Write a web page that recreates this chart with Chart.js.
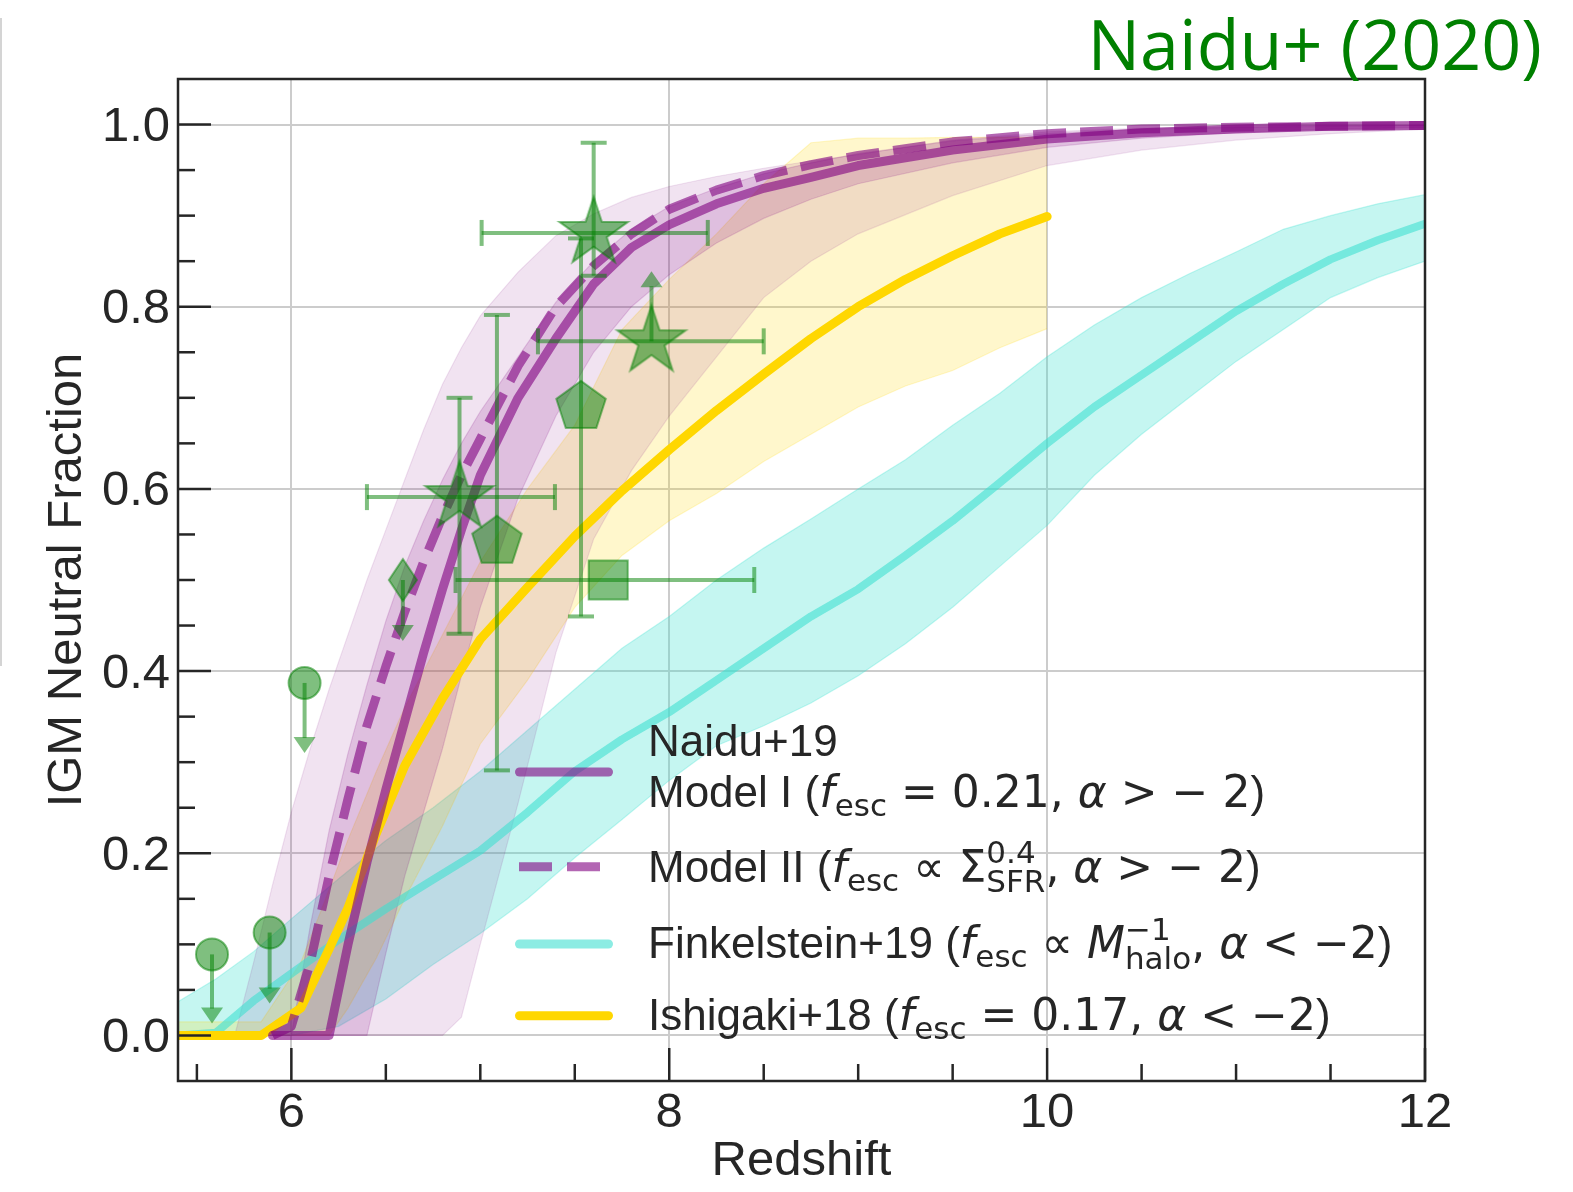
<!DOCTYPE html>
<html>
<head>
<meta charset="utf-8">
<script src="https://cdn.jsdelivr.net/npm/chart.js@4.4.1/dist/chart.umd.min.js"></script>
<style>
  html, body { margin: 0; padding: 0; background: #fff; }
  #wrap { position: relative; width: 1573px; height: 1192px; }
</style>
</head>
<body>
<div id="wrap"><canvas id="chart"></canvas></div>
<script>
// Naidu+19 models (purple): redshift grid, lines and bands
const purpleZ  = [5.7, 5.8, 5.9, 6.0, 6.1, 6.2, 6.3, 6.4, 6.5, 6.6, 6.7, 6.8, 6.9, 7.0, 7.2, 7.4, 7.6, 7.8, 8.0, 8.25, 8.5, 8.75, 9.0, 9.5, 10.0, 10.5, 11.0, 11.5, 12.0];
const modelI   = [null, null, 0, 0, 0, 0, 0.10, 0.19, 0.27, 0.345, 0.42, 0.49, 0.555, 0.615, 0.70, 0.765, 0.825, 0.865, 0.89, 0.913, 0.93, 0.942, 0.955, 0.972, 0.984, 0.991, 0.995, 0.998, 0.999];
const modelII  = [null, null, 0, 0.01, 0.08, 0.175, 0.26, 0.34, 0.405, 0.465, 0.52, 0.57, 0.615, 0.655, 0.735, 0.80, 0.845, 0.88, 0.907, 0.928, 0.944, 0.956, 0.966, 0.981, 0.99, 0.995, 0.997, 0.998, 0.999];
const modelIHi = [0, 0, 0, 0, 0.12, 0.225, 0.31, 0.385, 0.455, 0.515, 0.565, 0.61, 0.65, 0.685, 0.745, 0.805, 0.85, 0.885, 0.91, 0.93, 0.946, 0.958, 0.968, 0.982, 0.99, 0.995, 0.997, 0.998, 0.999];
const modelILo = [0, 0, 0, 0, 0, 0, 0, 0, 0.09, 0.175, 0.245, 0.315, 0.395, 0.47, 0.59, 0.68, 0.75, 0.80, 0.835, 0.87, 0.897, 0.918, 0.935, 0.958, 0.975, 0.985, 0.991, 0.995, 0.997];
const modelIIHi = [0, 0.08, 0.165, 0.245, 0.315, 0.38, 0.44, 0.50, 0.555, 0.61, 0.665, 0.715, 0.755, 0.79, 0.838, 0.878, 0.902, 0.92, 0.932, 0.943, 0.952, 0.96, 0.967, 0.983, 0.992, 0.996, 0.998, 0.999, 0.999];
const modelIILo = [0, 0, 0, 0, 0, 0, 0, 0, 0, 0, 0, 0, 0.02, 0.10, 0.255, 0.42, 0.545, 0.62, 0.68, 0.745, 0.81, 0.85, 0.88, 0.922, 0.955, 0.972, 0.983, 0.99, 0.995];

// Ishigaki+18 (gold)
const yellowZ   = [5.4, 5.6, 5.84, 6.05, 6.2, 6.3, 6.45, 6.6, 6.8, 7.0, 7.25, 7.5, 7.75, 8.0, 8.25, 8.5, 8.75, 9.0, 9.25, 9.5, 9.75, 10.0];
const yellowMid = [0, 0, 0, 0.03, 0.095, 0.14, 0.222, 0.296, 0.37, 0.435, 0.492, 0.548, 0.598, 0.643, 0.686, 0.726, 0.765, 0.80, 0.83, 0.856, 0.88, 0.899];
const yellowHi  = [0.015, 0.015, 0.015, 0.08, 0.16, 0.215, 0.29, 0.36, 0.44, 0.52, 0.60, 0.67, 0.775, 0.83, 0.88, 0.935, 0.98, 0.985, 0.985, 0.986, 0.986, 0.986];
const yellowLo  = [0, 0, 0, 0, 0, 0.03, 0.085, 0.15, 0.23, 0.32, 0.39, 0.47, 0.527, 0.565, 0.595, 0.63, 0.66, 0.69, 0.713, 0.73, 0.755, 0.776];

// Finkelstein+19 (turquoise)
const cyanZ   = [5.4, 5.6, 5.8, 6.0, 6.25, 6.5, 6.75, 7.0, 7.25, 7.5, 7.75, 8.0, 8.25, 8.5, 8.75, 9.0, 9.25, 9.5, 9.75, 10.0, 10.25, 10.5, 10.75, 11.0, 11.25, 11.5, 11.75, 12.0];
const cyanMid = [0, 0.003, 0.038, 0.068, 0.105, 0.139, 0.171, 0.203, 0.245, 0.29, 0.325, 0.355, 0.39, 0.425, 0.46, 0.49, 0.527, 0.565, 0.607, 0.65, 0.69, 0.725, 0.76, 0.795, 0.825, 0.852, 0.873, 0.891];
const cyanHi  = [0.037, 0.062, 0.092, 0.128, 0.172, 0.214, 0.25, 0.29, 0.335, 0.38, 0.425, 0.46, 0.50, 0.535, 0.567, 0.60, 0.632, 0.67, 0.705, 0.745, 0.78, 0.81, 0.836, 0.86, 0.885, 0.90, 0.913, 0.923];
const cyanLo  = [0, 0, 0, 0, 0.01, 0.04, 0.078, 0.112, 0.15, 0.195, 0.237, 0.28, 0.318, 0.34, 0.365, 0.395, 0.43, 0.47, 0.515, 0.56, 0.615, 0.66, 0.70, 0.74, 0.775, 0.81, 0.832, 0.85];

// Observational constraints (green)
const circZ = [5.58, 5.885, 6.07];       // upper limits
const circXHI = [0.089, 0.113, 0.387];
const circLimTo = [0.013, 0.035, 0.31];
const diamZ = [6.59];                    // upper limit
const diamXHI = [0.50];
const diamLimTo = [0.433];
const starZ = [6.89, 7.60, 7.906];
const starXHI = [0.591, 0.881, 0.762];
const starZLo = [6.40, 7.007, 7.305];
const starZHi = [7.395, 8.204, 8.50];
const starXLo = [0.441, 0.834, null];
const starXUp = [0.70, 0.98, null];
const starLimTo = [null, null, 0.839];    // lower limit
const pentZ = [7.088, 7.533];
const pentXHI = [0.542, 0.69];
const pentXLo = [0.291, 0.46];
const pentXUp = [0.791, 0.875];
const sqZ = [7.677];
const sqXHI = [0.50];
const sqZLo = [6.869];
const sqZHi = [8.45];

// Axes
const xTicks = [6, 8, 10, 12];
const xMinorTicks = [5.5, 6.5, 7, 7.5, 8.5, 9, 9.5, 10.5, 11, 11.5];
const yTicks = [0, 0.2, 0.4, 0.6, 0.8, 1.0];
const yMinorTicks = [0.05, 0.1, 0.15, 0.25, 0.3, 0.35, 0.45, 0.5, 0.55, 0.65, 0.7, 0.75, 0.85, 0.9, 0.95];

const PURPLE = 'rgba(128,0,128,0.6)';
const GOLD = '#FFD700';
const TURQ = 'rgba(64,224,208,0.6)';
const GREEN = 'rgba(0,128,0,0.5)';
const INK = '#262626';

const xy = (zs, vs) => zs.map((z, i) => ({x: z, y: vs[i]}));

function markerCanvas(pts, w, h) {
  const c = document.createElement('canvas');
  c.width = Math.ceil(w + 6); c.height = Math.ceil(h + 6);
  const g = c.getContext('2d');
  g.translate(c.width / 2, c.height / 2);
  g.beginPath();
  pts.forEach(([px, py], i) => i ? g.lineTo(px, py) : g.moveTo(px, py));
  g.closePath();
  g.fillStyle = GREEN; g.fill();
  g.strokeStyle = GREEN; g.lineWidth = 2; g.lineJoin = 'miter'; g.stroke();
  return c;
}
function polyPts(n, R, r) {
  const pts = [];
  const k = r ? 2 * n : n;
  for (let i = 0; i < k; i++) {
    const a = -Math.PI / 2 + i * 2 * Math.PI / k;
    const rad = (r && i % 2) ? r : R;
    pts.push([rad * Math.cos(a), rad * Math.sin(a)]);
  }
  return pts;
}
const starImg = markerCanvas(polyPts(5, 36, 36 * 0.382), 72, 72);
const pentImg = markerCanvas(polyPts(5, 26), 52, 52);
const diamImg = markerCanvas([[0, -21], [14, 0], [0, 21], [-14, 0]], 28, 42);

function band(zs, vs, color, fill, order) {
  return { data: xy(zs, vs), borderColor: color, backgroundColor: color, borderWidth: 1.2,
           pointRadius: 0, fill: fill, tension: 0, order: order };
}
function curve(zs, vs, color, width, order, dash) {
  return { data: xy(zs, vs), borderColor: color, borderWidth: width, pointRadius: 0, fill: false,
           tension: 0, order: order, borderDash: dash || [], borderCapStyle: dash ? 'butt' : 'round',
           borderJoinStyle: 'round' };
}
function markers(zs, vs, style, radius, order) {
  return { data: xy(zs, vs), showLine: false, pointStyle: style, pointRadius: radius,
           pointBackgroundColor: GREEN, pointBorderColor: GREEN, pointBorderWidth: 2, order: order };
}

const datasets = [
  markers(starZ, starXHI, starImg, 20, 0),
  markers(pentZ, pentXHI, pentImg, 20, 1),
  markers(sqZ, sqXHI, 'rect', 27.6, 2),
  markers(diamZ, diamXHI, diamImg, 20, 3),
  markers(circZ, circXHI, 'circle', 16, 4),
  curve(purpleZ, modelII, PURPLE, 9, 10, [33, 14]),
  curve(purpleZ, modelI, PURPLE, 9, 11),
  curve(yellowZ, yellowMid, GOLD, 9, 12),
  curve(cyanZ, cyanMid, TURQ, 8, 13),
  band(purpleZ, modelIHi, 'rgba(128,0,128,0.16)', '+1', 14),
  band(purpleZ, modelILo, 'rgba(128,0,128,0.16)', false, 15),
  band(purpleZ, modelIIHi, 'rgba(128,0,128,0.11)', '+1', 16),
  band(purpleZ, modelIILo, 'rgba(128,0,128,0.11)', false, 17),
  band(yellowZ, yellowHi, 'rgba(255,215,0,0.2)', '+1', 18),
  band(yellowZ, yellowLo, 'rgba(255,215,0,0.2)', false, 19),
  band(cyanZ, cyanHi, 'rgba(64,224,208,0.3)', '+1', 20),
  band(cyanZ, cyanLo, 'rgba(64,224,208,0.3)', false, 21)
];

// error bars and limit arrows
const errorBars = {
  id: 'errorBars',
  afterDatasetsDraw(chart) {
    const {ctx, scales: {x, y}} = chart;
    const X = v => x.getPixelForValue(v), Y = v => y.getPixelForValue(v);
    ctx.save();
    ctx.strokeStyle = GREEN; ctx.fillStyle = GREEN; ctx.lineWidth = 4; ctx.lineCap = 'butt';
    const seg = (x1, y1, x2, y2) => { ctx.beginPath(); ctx.moveTo(x1, y1); ctx.lineTo(x2, y2); ctx.stroke(); };
    const vbar = (z, lo, hi) => {
      const px = X(z);
      seg(px, Y(lo), px, Y(hi));
      seg(px - 13, Y(lo), px + 13, Y(lo));
      seg(px - 13, Y(hi), px + 13, Y(hi));
    };
    const hbar = (lo, hi, v) => {
      const py = Y(v);
      seg(X(lo), py, X(hi), py);
      seg(X(lo), py - 13, X(lo), py + 13);
      seg(X(hi), py - 13, X(hi), py + 13);
    };
    const arrow = (z, from, to) => {
      const px = X(z), p0 = Y(from), p1 = Y(to);
      const dir = Math.sign(p1 - p0);
      seg(px, p0, px, p1 - dir * 15);
      ctx.beginPath();
      ctx.moveTo(px, p1); ctx.lineTo(px - 11, p1 - dir * 16); ctx.lineTo(px + 11, p1 - dir * 16);
      ctx.closePath(); ctx.fill();
    };
    starZ.forEach((z, i) => {
      if (starXLo[i] !== null) vbar(z, starXLo[i], starXUp[i]);
      hbar(starZLo[i], starZHi[i], starXHI[i]);
      if (starLimTo[i] !== null) arrow(z, starXHI[i], starLimTo[i]);
    });
    pentZ.forEach((z, i) => vbar(z, pentXLo[i], pentXUp[i]));
    sqZ.forEach((z, i) => hbar(sqZLo[i], sqZHi[i], sqXHI[i]));
    circZ.forEach((z, i) => arrow(z, circXHI[i], circLimTo[i]));
    diamZ.forEach((z, i) => arrow(z, diamXHI[i], diamLimTo[i]));
    ctx.restore();
  }
};

// inward ticks and the axes frame
const frame = {
  id: 'frame',
  afterDatasetsDraw(chart) {
    const {ctx, chartArea: a, scales: {x, y}} = chart;
    ctx.save();
    ctx.strokeStyle = INK; ctx.lineWidth = 2.5;
    const seg = (x1, y1, x2, y2) => { ctx.beginPath(); ctx.moveTo(x1, y1); ctx.lineTo(x2, y2); ctx.stroke(); };
    yTicks.forEach(v => { const p = y.getPixelForValue(v); seg(a.left, p, a.left + 33, p); });
    yMinorTicks.forEach(v => { const p = y.getPixelForValue(v); seg(a.left, p, a.left + 17, p); });
    xTicks.forEach(v => { const p = x.getPixelForValue(v); seg(p, a.bottom, p, a.bottom - 33); });
    xMinorTicks.forEach(v => { const p = x.getPixelForValue(v); seg(p, a.bottom, p, a.bottom - 17); });
    ctx.strokeRect(a.left, a.top, a.right - a.left, a.bottom - a.top);
    ctx.restore();
  }
};

// legend with math-style labels, and the corner caption
const legendRows = [
  { handle: 'solid',  color: PURPLE, hy: 772, lines: [
      { base: 756, parts: [['Naidu+19', 'r']] },
      { base: 806.7, parts: [['Model I (', 'r'], ['f', 'i'], ['esc', 'sub'], [' = 0.21, ', 'm'], ['α', 'i'], [' > − 2', 'm'], [')', 'r']] } ] },
  { handle: 'dashed', color: PURPLE, hy: 866.7, lines: [
      { base: 881.7, parts: [['Model II (', 'r'], ['f', 'i'], ['esc', 'sub'], [' ∝ Σ', 'm'], [['0.4', 'SFR'], 'ss'], [', ', 'm'], ['α', 'i'], [' > − 2', 'm'], [')', 'r']] } ] },
  { handle: 'solid',  color: TURQ, hy: 944, lines: [
      { base: 958.3, parts: [['Finkelstein+19 (', 'r'], ['f', 'i'], ['esc', 'sub'], [' ∝ ', 'm'], ['M', 'i'], [['−1', 'halo'], 'ss'], [', ', 'm'], ['α', 'i'], [' < −2', 'm'], [')', 'r']] } ] },
  { handle: 'solid',  color: GOLD, hy: 1015.7, lines: [
      { base: 1030, parts: [['Ishigaki+18 (', 'r'], ['f', 'i'], ['esc', 'sub'], [' = 0.17, ', 'm'], ['α', 'i'], [' < −2', 'm'], [')', 'r']] } ] }
];

function richText(ctx, x, base, parts, size) {
  const fonts = { r: `${size}px "Liberation Sans"`, m: `${size}px "DejaVu Sans"`, i: `oblique ${size}px "DejaVu Sans"` };
  const small = `${Math.round(size * 0.7)}px "DejaVu Sans"`;
  parts.forEach(([t, k]) => {
    if (k === 'sub') {
      ctx.font = small; ctx.fillText(t, x, base + size * 0.2); x += ctx.measureText(t).width;
    } else if (k === 'ss') {
      ctx.font = small;
      ctx.fillText(t[0], x, base - size * 0.42);
      ctx.fillText(t[1], x, base + size * 0.24);
      x += Math.max(ctx.measureText(t[0]).width, ctx.measureText(t[1]).width);
    } else {
      ctx.font = fonts[k]; ctx.fillText(t, x, base); x += ctx.measureText(t).width;
    }
  });
}

const legendAndCaption = {
  id: 'legendAndCaption',
  beforeDraw(chart) {
    const ctx = chart.ctx;
    ctx.save();
    ctx.strokeStyle = '#d4d4d4'; ctx.lineWidth = 2;
    ctx.beginPath(); ctx.moveTo(1, 18); ctx.lineTo(1, 666); ctx.stroke();
    ctx.restore();
  },
  afterDraw(chart) {
    const ctx = chart.ctx;
    ctx.save();
    legendRows.forEach(row => {
      ctx.strokeStyle = row.color; ctx.lineWidth = 9;
      ctx.beginPath();
      if (row.handle === 'dashed') { ctx.setLineDash([33, 15]); ctx.lineCap = 'butt'; ctx.moveTo(519, row.hy); ctx.lineTo(609, row.hy); }
      else { ctx.setLineDash([]); ctx.lineCap = 'round'; ctx.moveTo(519.5, row.hy); ctx.lineTo(608.5, row.hy); }
      ctx.stroke();
      ctx.setLineDash([]);
      ctx.fillStyle = INK; ctx.textBaseline = 'alphabetic'; ctx.textAlign = 'left';
      row.lines.forEach(l => richText(ctx, 648, l.base, l.parts, 44));
    });
    ctx.font = '70px "Open Sans"';
    ctx.fillStyle = '#008000'; ctx.textAlign = 'right'; ctx.textBaseline = 'alphabetic';
    ctx.fillText('Naidu+ (2020)', 1542, 70);
    ctx.restore();
  }
};

new Chart(document.getElementById('chart'), {
  type: 'line',
  data: { datasets },
  plugins: [errorBars, frame, legendAndCaption],
  options: {
    responsive: true,
    maintainAspectRatio: false,
    devicePixelRatio: 1,
    animation: false,
    events: [],
    layout: { padding: { top: 79, right: 148, left: 0, bottom: 0 } },
    plugins: {
      legend: { display: false },
      tooltip: { enabled: false },
      filler: { propagate: false }
    },
    scales: {
      x: {
        type: 'linear', min: 5.4, max: 12,
        afterFit: s => { s.height = 111; },
        afterBuildTicks: s => { s.ticks = xTicks.map(v => ({ value: v })); },
        grid: { color: '#cccccc', lineWidth: 2, drawTicks: false },
        border: { display: false },
        ticks: { autoSkip: false, maxRotation: 0, padding: 3, color: INK,
                 font: { family: 'Liberation Sans', size: 49 }, callback: v => String(v) },
        title: { display: true, text: 'Redshift', color: INK, padding: { top: 0, bottom: 1 },
                 font: { family: 'Liberation Sans', size: 49, lineHeight: 1.2 } }
      },
      y: {
        type: 'linear', min: -0.05, max: 1.05,
        afterFit: s => { s.width = 178; },
        afterBuildTicks: s => { s.ticks = yTicks.map(v => ({ value: v })); },
        grid: { color: '#cccccc', lineWidth: 2, drawTicks: false },
        border: { display: false },
        ticks: { autoSkip: false, padding: 8, labelOffset: 3, color: INK,
                 font: { family: 'Liberation Sans', size: 49 }, callback: v => v.toFixed(1) },
        title: { display: true, text: 'IGM Neutral Fraction', color: INK, padding: { top: 38, bottom: 0 },
                 font: { family: 'Liberation Sans', size: 49, lineHeight: 1.2 } }
      }
    }
  }
});
</script>
</body>
</html>
